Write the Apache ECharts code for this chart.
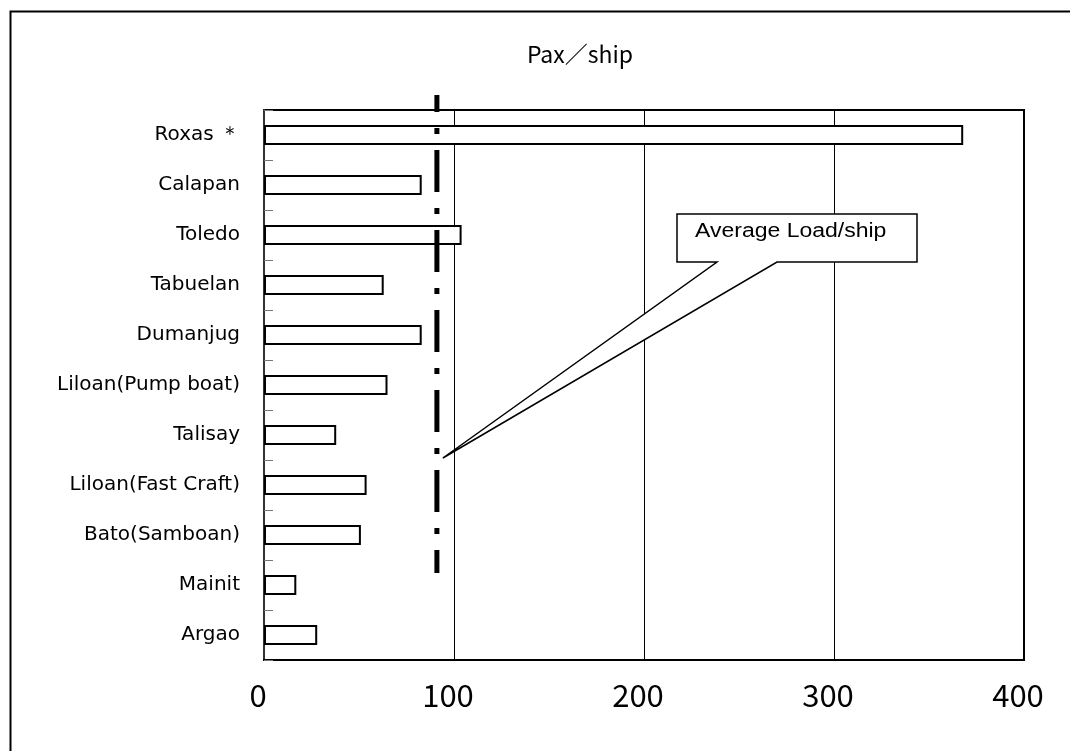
<!DOCTYPE html>
<html>
<head>
<meta charset="utf-8">
<script src="https://cdn.jsdelivr.net/npm/echarts@6/dist/echarts.min.js"></script>
<style>
html,body{margin:0;padding:0;background:#fff;}
#chart{width:1070px;height:751px;}
</style>
</head>
<body>
<div id="chart"></div>
<script>
var categories = ['Roxas ＊','Calapan','Toledo','Tabuelan','Dumanjug','Liloan(Pump boat)','Talisay','Liloan(Fast Craft)','Bato(Samboan)','Mainit','Argao'];
var paxPerShip = [368, 83, 104, 63, 83, 65, 38, 54, 51, 17, 28];
var averageLoad = 91;
var xTicks = [0, 100, 200, 300, 400];
var avgLineSpan = [11.3, 1.74];

var jp = '"Noto Sans CJK JP", "Noto Sans", sans-serif';
var chart = echarts.init(document.getElementById('chart'), null, {renderer: 'canvas'});

var option = {
  backgroundColor: '#fff',
  animation: false,
  title: {
    text: 'Pax／ship',
    left: 575, top: 38, textAlign: 'center',
    textStyle: {fontFamily: jp, fontSize: 23, fontWeight: 'normal', color: '#000'}
  },
  grid: {left: 264, right: 46, top: 110, bottom: 91, show: true, borderColor: '#000', borderWidth: 2, backgroundColor: 'transparent'},
  xAxis: {
    type: 'value', min: xTicks[0], max: xTicks[xTicks.length - 1], interval: 100,
    axisLine: {show: true, lineStyle: {color: '#000', width: 2}},
    axisTick: {show: false},
    splitLine: {show: true, lineStyle: {color: '#000', width: 1}},
    axisLabel: {margin: 20, fontFamily: jp, fontSize: 31, color: '#000', padding: [0, 12, 0, 0]}
  },
  yAxis: [{
    type: 'category', data: categories, inverse: true,
    axisLine: {show: true, lineStyle: {color: '#333', width: 2}},
    axisTick: {show: true, inside: true, length: 9, lineStyle: {color: '#777', width: 1}},
    splitLine: {show: false},
    axisLabel: {margin: 24, fontFamily: '"DejaVu Sans", sans-serif', fontSize: 20, color: '#000'}
  }, {
    type: 'value', min: 0, max: 11, show: false, splitLine: {show: false}
  }],
  series: [{
    type: 'bar', data: paxPerShip, barWidth: '40%',
    itemStyle: {color: '#fff', borderColor: '#000', borderWidth: 2},
    silent: true
  }, {
    type: 'line', yAxisIndex: 1, clip: false, symbol: 'none', silent: true,
    data: [[averageLoad, avgLineSpan[0]], [averageLoad, avgLineSpan[1]]],
    lineStyle: {color: '#000', width: 5, type: [42, 16, 6, 16], dashOffset: 25, cap: 'butt'},
    z: 5
  }]
};
chart.setOption(option);

var tip = chart.convertToPixel({xAxisIndex: 0, yAxisIndex: 1}, [averageLoad, 4.04]);
var tx = tip[0] + 6, ty = tip[1];
chart.setOption({
  graphic: [{
    type: 'rect', left: 8, top: 9, silent: true, z: 0,
    shape: {x: 0, y: 0, width: 1200, height: 900},
    style: {fill: 'none', stroke: '#000', lineWidth: 2}
  }, {
    type: 'polygon', silent: true, z: 10,
    shape: {points: [[677, 214], [917, 214], [917, 262], [777, 262], [tx, ty], [717, 262], [677, 262]]},
    style: {fill: '#fff', stroke: '#000', lineWidth: 1.5}
  }, {
    type: 'text', silent: true, z: 11, x: 695, y: 221, scaleX: 1.15,
    style: {text: 'Average Load/ship', fontFamily: '"Liberation Sans", Arial, sans-serif', fontSize: 20, fill: '#000'}
  }]
});
</script>
</body>
</html>
